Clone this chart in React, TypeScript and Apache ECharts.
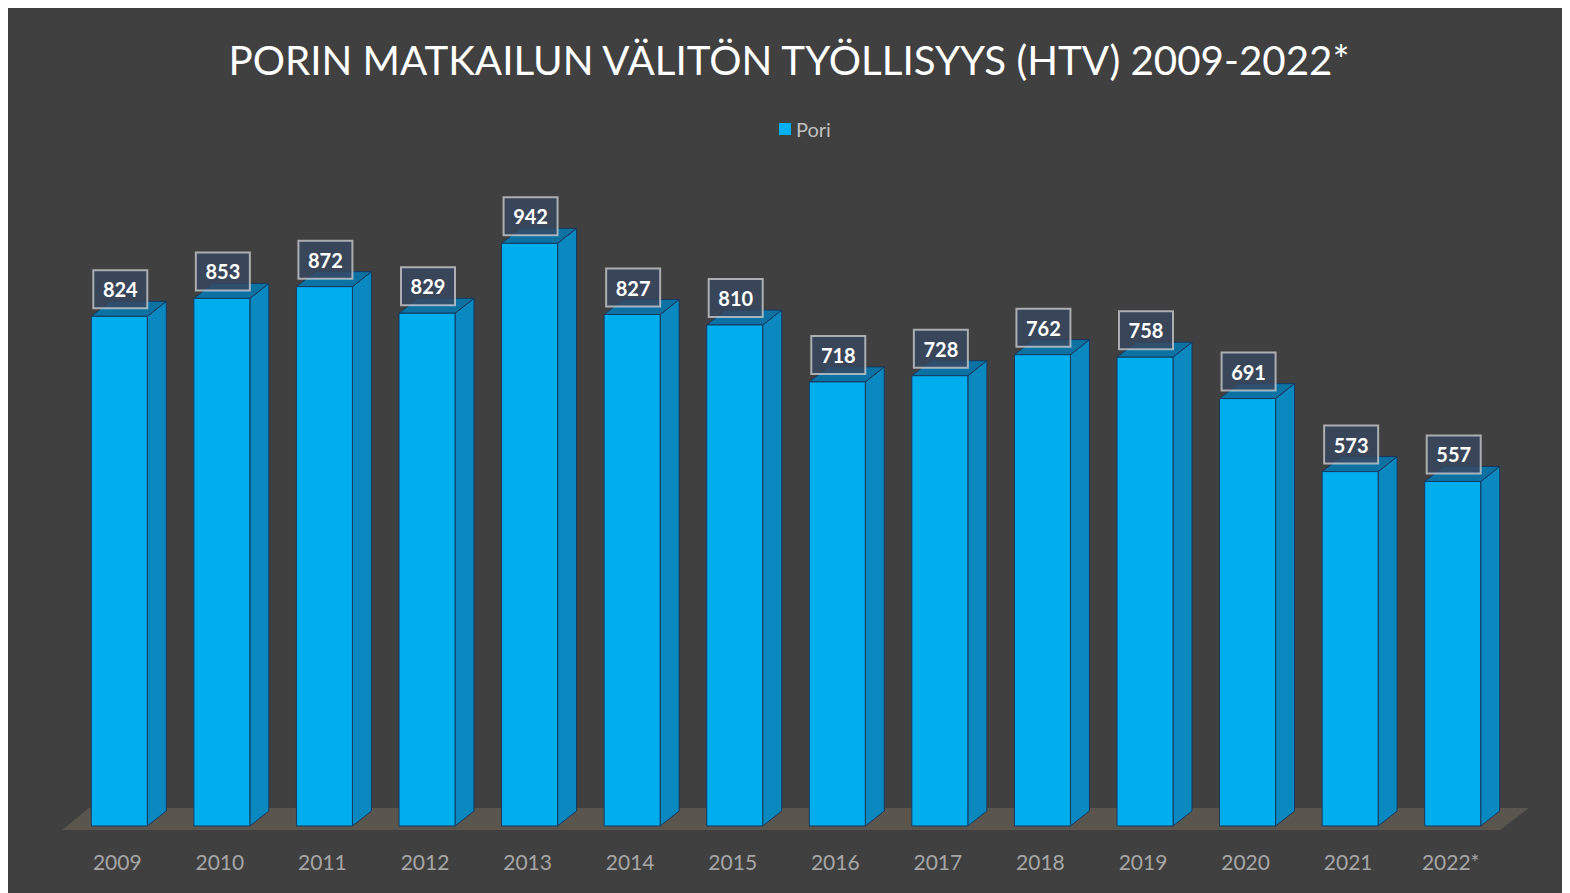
import React, { useEffect, useRef } from 'react';
import * as echarts from 'echarts';

const titleText = 'PORIN MATKAILUN VÄLITÖN TYÖLLISYYS (HTV) 2009-2022*';
const seriesName = 'Pori';
const categories = ['2009', '2010', '2011', '2012', '2013', '2014', '2015', '2016', '2017', '2018', '2019', '2020', '2021', '2022*'];
const values = [824, 853, 872, 829, 942, 827, 810, 718, 728, 762, 758, 691, 573, 557];

const FONT = 'Lato, "Open Sans", sans-serif';

export default function App() {
  const ref = useRef<HTMLDivElement>(null);
  useEffect(() => {
    if (!ref.current) return;
    const chart = echarts.init(ref.current, null, { renderer: 'svg' });
    const barData = values.map((v, i) => [i, v]);
    const option: any = {
      animation: false,
      backgroundColor: '#404040',
      title: {
        text: titleText,
        left: 'center',
        top: 26,
        textStyle: { color: '#ffffff', fontSize: 40.3, fontWeight: 'normal', fontFamily: FONT },
      },
      legend: {
        data: [{ name: seriesName, icon: 'rect' }],
        left: 766,
        top: 106,
        itemWidth: 12,
        itemHeight: 12,
        itemGap: 8,
        textStyle: { color: '#bfbfbf', fontSize: 20, fontFamily: FONT },
      },
      grid: { left: 58, width: 1436, top: 199.5, bottom: 67 },
      xAxis: {
        type: 'category',
        data: categories,
        axisLine: { show: false },
        axisTick: { show: false },
        axisLabel: { color: '#a6a6a6', fontSize: 21, fontFamily: FONT, margin: 25 },
      },
      yAxis: {
        type: 'value',
        min: 0,
        max: 1000,
        show: false,
        splitLine: { show: false },
      },
      series: [
        {
          type: 'custom',
          name: 'floor',
          z: 1,
          silent: true,
          data: [[0, 0]],
          encode: { x: 0, y: 1 },
          renderItem: (params: any, api: any) => {
            const band = api.size([1, 0])[0];
            const a = api.coord([0, 0]);
            const b = api.coord([categories.length - 1, 0]);
            const left = a[0] - band / 2 - 4;
            const right = b[0] + band / 2 - 2;
            const y = a[1];
            return {
              type: 'polygon',
              shape: {
                points: [
                  [left, y + 4],
                  [left + 27, y - 18],
                  [right + 29, y - 18],
                  [right, y + 4],
                ],
              },
              style: { fill: '#5a564d' },
            };
          },
        },
        {
          type: 'custom',
          name: seriesName,
          z: 2,
          itemStyle: { color: '#00b0f0' },
          data: barData,
          encode: { x: 0, y: 1 },
          renderItem: (params: any, api: any) => {
            const i = api.value(0);
            const v = api.value(1);
            const b = api.coord([i, 0]);
            const t = api.coord([i, v]);
            const bw = 56;
            const dx = 19;
            const dy = -15;
            const cx = b[0] + 2;
            const x0 = cx - bw / 2;
            const x1 = cx + bw / 2;
            const yb = b[1];
            const yt = t[1];
            const edge = '#17375e';
            return {
              type: 'group',
              children: [
                {
                  type: 'polygon',
                  shape: { points: [[x1, yt], [x1 + dx, yt + dy], [x1 + dx, yb + dy], [x1, yb]] },
                  style: { fill: '#0a88c0', stroke: edge, lineWidth: 1 },
                },
                {
                  type: 'polygon',
                  shape: { points: [[x0, yt], [x0 + dx, yt + dy], [x1 + dx, yt + dy], [x1, yt]] },
                  style: { fill: '#0b72a3', stroke: edge, lineWidth: 1 },
                },
                {
                  type: 'rect',
                  shape: { x: x0, y: yt, width: bw, height: yb - yt },
                  style: { fill: '#00aeee', stroke: edge, lineWidth: 1 },
                },
                {
                  type: 'rect',
                  shape: { x: cx + 1 - 27, y: yt - 46, width: 54, height: 38 },
                  style: { fill: 'rgba(56,72,96,0.82)', stroke: 'rgba(215,215,215,0.72)', lineWidth: 2 },
                },
                {
                  type: 'text',
                  style: {
                    x: cx + 1,
                    y: yt - 27,
                    text: String(v),
                    fill: '#ffffff',
                    fontSize: 20,
                    fontWeight: 'bold',
                    fontFamily: FONT,
                    align: 'center',
                    verticalAlign: 'middle',
                  },
                },
              ],
            };
          },
        },
      ],
    };
    chart.setOption(option);
    return () => chart.dispose();
  }, []);
  return (
    <div
      ref={ref}
      style={{
        width: 1562,
        height: 885,
        boxShadow: '-1px -1px 0 0 #7a7a7a',
      }}
    />
  );
}
